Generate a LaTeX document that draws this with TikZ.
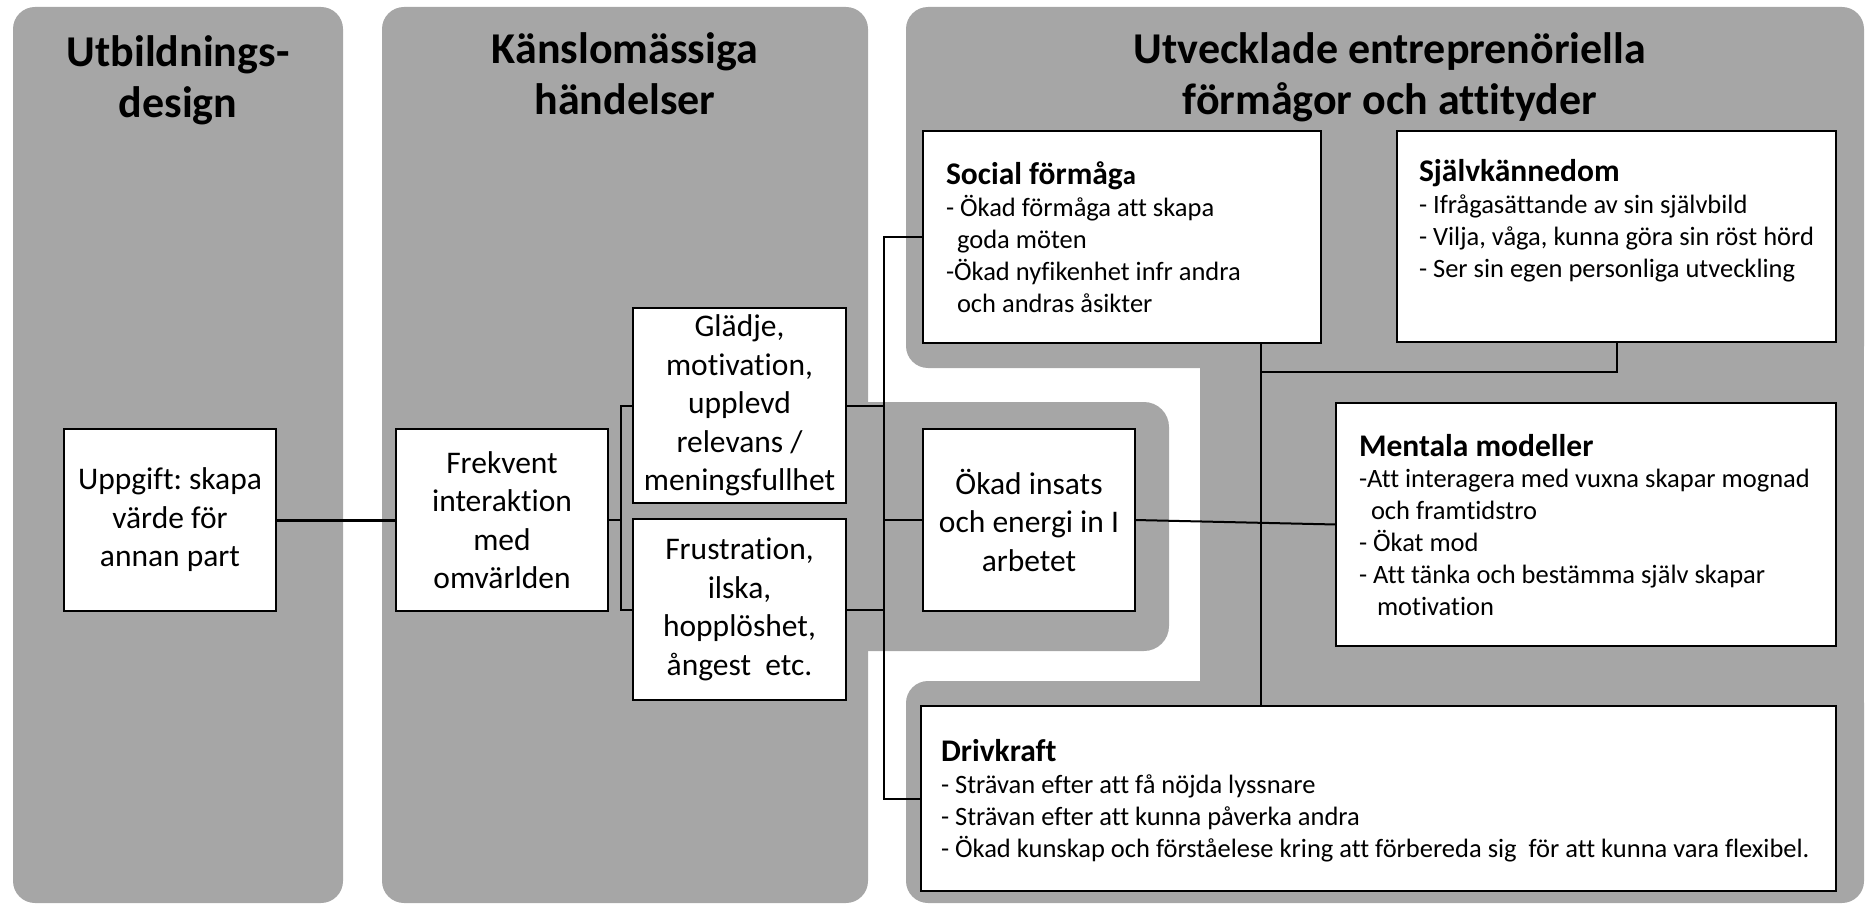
\documentclass[tikz,border=0pt]{standalone}
\usepackage{fontspec}
\setmainfont{Carlito}[Ligatures={NoCommon}]
\frenchspacing
\definecolor{panelgray}{HTML}{A6A6A6}
\tikzset{
  panel/.style={fill=panelgray, draw=none},
  box/.style={draw=black, line width=2pt, fill=white, inner sep=0pt, outer sep=0pt, anchor=north west, align=center, font=\fontsize{31.5}{38.5}\selectfont},
  listtext/.style={align=left, anchor=base west, inner sep=0pt, outer sep=0pt, font=\fontsize{26.5}{31.8}\selectfont},
  head/.style={align=center, anchor=base, inner sep=0pt, font=\fontsize{44}{51}\selectfont\bfseries},
  conn/.style={line width=2pt, draw=black},
}
\newcommand{\lhead}[1]{{\fontsize{31.5}{31.8}\selectfont\bfseries #1}}
\begin{document}
\begin{tikzpicture}[x=1pt,y=-1pt]
\useasboundingbox (0,0) rectangle (1865,904);
% background panels
\fill[panel, rounded corners=22pt] (13,7) rectangle (343,903);
\fill[panel, rounded corners=22pt] (382,7) rectangle (868,903);
\fill[panel, rounded corners=22pt] (906,7) rectangle (1864,368);
\fill[panel, rounded corners=22pt] (906,681) rectangle (1864,903);
\fill[panel] (1200,300) rectangle (1864,750);
\fill[panel, rounded corners=25pt] (840,402) rectangle (1169,651);

% headings (anchor base = last line)
\node[head] (h1) at (178,118) {Utbildnings-\\design};
\node[head] (h2) at (625,115) {Känslomässiga\\händelser};
\node[head] (h3) at (1390,115) {Utvecklade entreprenöriella\\förmågor och attityder};

% boxes
\node[box, minimum width=212, minimum height=182] (upp) at (64,429) {Uppgift: skapa\\värde för\\annan part};
\node[box, minimum width=212, minimum height=182] (frek) at (396,429) {Frekvent\\interaktion\\med\\omvärlden};
\node[box, minimum width=213, minimum height=195] (glad) at (633,308) {Glädje,\\motivation,\\upplevd\\relevans /\\meningsfullhet};
\node[box, minimum width=213, minimum height=181] (frus) at (633,519) {Frustration,\\ilska,\\hopplöshet,\\ångest\ \ etc.};
\node[box, minimum width=212, minimum height=182] (okad) at (923,429) {Ökad insats\\och energi in I\\arbetet};
\node[box, minimum width=398, minimum height=212] (soc) at (923,131) {};
\node[box, minimum width=439, minimum height=211] (self) at (1397,131) {};
\node[box, minimum width=500, minimum height=243] (ment) at (1336,403) {};
\node[box, minimum width=915, minimum height=185] (driv) at (921,706) {};

% list texts (anchor base = last line)
\node[listtext] (soct) at (946,312) {\lhead{Social förmåg}{\bfseries a}\\- Ökad förmåga att skapa\\\hspace*{11pt}goda möten\\-Ökad nyfikenhet infr andra\\\hspace*{11pt}och andras åsikter};
\node[listtext] (selft) at (1419,277) {\lhead{Självkännedom}\\- Ifrågasättande av sin självbild\\- Vilja, våga, kunna göra sin röst hörd\\- Ser sin egen personliga utveckling};
\node[listtext] (mentt) at (1359,615) {\lhead{Mentala modeller}\\-Att interagera med vuxna skapar mognad\\\hspace*{12pt}och framtidstro\\- Ökat mod\\- Att tänka och bestämma själv skapar\\\hspace*{18pt}motivation};
\node[listtext] (drivt) at (941,857) {\lhead{Drivkraft}\\- Strävan efter att få nöjda lyssnare\\- Strävan efter att kunna påverka andra\\- Ökad kunskap och förståelese kring att förbereda sig\ \ för att kunna vara flexibel.};

% connectors
\coordinate (bxa) at (621,0);
\coordinate (bxb) at (883.5,0);
\coordinate (trx) at (1261,0);
\coordinate (hzy) at (0,372);
\draw[conn, line width=3pt] (upp.east) -- (frek.west);
\draw[conn] (frek.east) -- (frek.east -| bxa);
\draw[conn] (glad.west) -- (glad.west -| bxa) -- (frus.west -| bxa) -- (frus.west);
\draw[conn] (glad.east) -- (glad.east -| bxb) -- (frus.east -| bxb) -- (frus.east);
\draw[conn] (okad.west -| bxb) -- (okad.west);
\draw[conn] (soc.west) -- (soc.west -| bxb) -- (driv.west -| bxb) -- (driv.west);
\draw[conn] (okad.east) -- (ment.west);
\draw[conn, line width=2.5pt] (soc.south -| trx) -- (driv.north -| trx);
\draw[conn] (hzy -| trx) -- (hzy -| self.south) -- (self.south);
\end{tikzpicture}
\end{document}
